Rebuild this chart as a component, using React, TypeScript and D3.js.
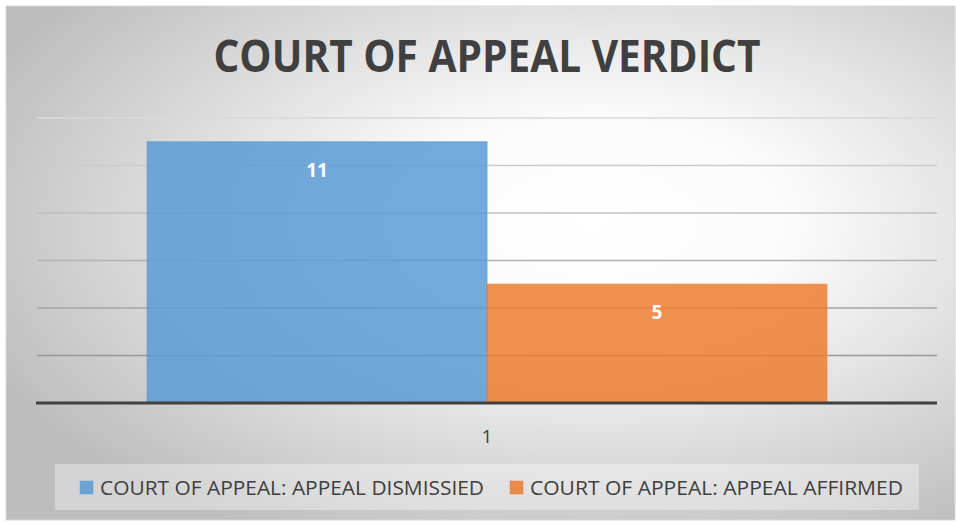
import React, { useEffect } from "react";
import * as d3 from "d3";

// chart values
const categories = ["1"];
const seriesNames = [
  "COURT OF APPEAL: APPEAL DISMISSIED",
  "COURT OF APPEAL: APPEAL AFFIRMED",
];
const seriesValues = [11, 5];
const seriesColors = ["#5B9BD5", "#ED7D31"];
const yTicks = [0, 2, 4, 6, 8, 10, 12];
const title = "COURT OF APPEAL VERDICT";

const W = 956;
const H = 524;
const FONT = "'Open Sans', 'Liberation Sans', sans-serif";

export default function App() {
  useEffect(() => {
    document.body.style.margin = "0";
  }, []);

  const x = d3
    .scaleBand<string>()
    .domain(categories)
    .range([37, 937])
    .paddingInner(0)
    .paddingOuter(0.162);
  const xs = d3
    .scaleBand<string>()
    .domain(seriesNames)
    .range([0, x.bandwidth()])
    .padding(0);
  const y = d3.scaleLinear().domain([0, 12]).range([403, 118]);

  // legend text widths as seen in the reference (Calibri is narrower)
  const legendX = [80, 510];
  const legendLen = [384, 373];

  return (
    <svg width={W} height={H} style={{ display: "block" }}>
      <defs>
        <radialGradient id="bg" cx="62%" cy="42%" r="70%" fx="62%" fy="42%">
          <stop offset="0%" stopColor="#ffffff" />
          <stop offset="30%" stopColor="#fbfbfb" />
          <stop offset="100%" stopColor="#bdbdbd" />
        </radialGradient>
        <linearGradient
          id="grid"
          gradientUnits="userSpaceOnUse"
          x1="0"
          y1={y(12)}
          x2="0"
          y2={y(0)}
        >
          <stop offset="0%" stopColor="#d9d9d9" />
          <stop offset="100%" stopColor="#8c8c8c" />
        </linearGradient>
      </defs>

      <rect x={0} y={0} width={W} height={H} fill="#ffffff" />
      <rect
        x={6}
        y={6}
        width={949}
        height={514}
        fill="url(#bg)"
        stroke="#d9d9d9"
        strokeWidth={1}
      />

      <text
        x={487}
        y={72}
        textAnchor="middle"
        fontFamily={FONT}
        fontWeight="bold"
        fontSize={45}
        fill="#404040"
        textLength={547}
        lengthAdjust="spacingAndGlyphs"
      >
        {title}
      </text>

      {/* gridlines */}
      {yTicks
        .filter((t) => t > 0)
        .map((t) => (
          <line
            key={t}
            x1={37}
            x2={937}
            y1={y(t)}
            y2={y(t)}
            stroke="url(#grid)"
            strokeWidth={1.5}
          />
        ))}

      {/* bars */}
      {categories.map((c) =>
        seriesNames.map((s, i) => {
          const bx = (x(c) ?? 0) + (xs(s) ?? 0);
          const bw = xs.bandwidth();
          const v = seriesValues[i];
          return (
            <g key={c + s}>
              <rect
                x={bx}
                y={y(v)}
                width={bw}
                height={y(0) - y(v)}
                fill={seriesColors[i]}
                fillOpacity={0.85}
                stroke={seriesColors[i]}
                strokeOpacity={0.5}
                strokeWidth={1.5}
              />
              <text
                x={bx + bw / 2}
                y={y(v) + 35}
                textAnchor="middle"
                fontFamily={FONT}
                fontWeight="bold"
                fontSize={19}
                fill="#ffffff"
              >
                {v}
              </text>
            </g>
          );
        })
      )}

      {/* axis line */}
      <line x1={36} x2={937} y1={y(0)} y2={y(0)} stroke="#404040" strokeWidth={3} />

      {categories.map((c) => (
        <text
          key={c}
          x={(x(c) ?? 0) + x.bandwidth() / 2}
          y={443}
          textAnchor="middle"
          fontFamily={FONT}
          fontSize={19}
          fill="#404040"
        >
          {c}
        </text>
      ))}

      {/* legend */}
      <rect x={55} y={464} width={864} height={46} fill="#ffffff" fillOpacity={0.35} />
      {seriesNames.map((s, i) => (
        <g key={s}>
          <rect
            x={legendX[i]}
            y={481}
            width={13}
            height={13}
            fill={seriesColors[i]}
            fillOpacity={0.85}
            stroke={seriesColors[i]}
            strokeOpacity={0.5}
          />
          <text
            x={legendX[i] + 20}
            y={495}
            fontFamily={FONT}
            fontSize={20}
            fill="#404040"
            textLength={legendLen[i]}
            lengthAdjust="spacingAndGlyphs"
          >
            {s}
          </text>
        </g>
      ))}
    </svg>
  );
}
